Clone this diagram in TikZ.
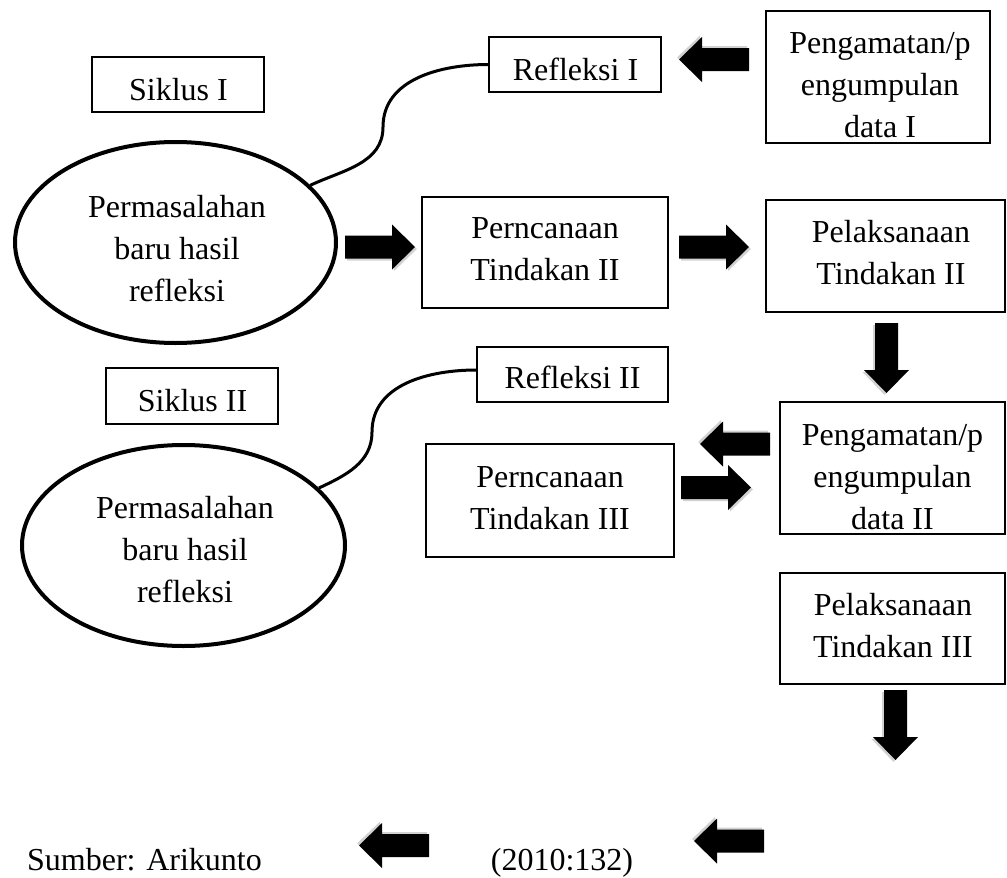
\documentclass[tikz,border=0pt]{standalone}
\usepackage{fontspec}
\setmainfont{Liberation Serif}
\usetikzlibrary{shapes.geometric}
\newcommand\mlines[1]{\begin{tabular}[t]{@{}c@{}}#1\end{tabular}}
\begin{document}
\begin{tikzpicture}[x=1pt,y=-1pt,
  box/.style={draw, line width=1.1pt, inner sep=0pt, rectangle},
  oval/.style={draw, line width=4pt, ellipse, inner sep=0pt},
  txt/.style={inner sep=0pt, anchor=base, font=\fontsize{32}{42}\selectfont},
  link/.style={line width=3pt},
  pics/blockarrow/.style={code={
    \fill[black!35, opacity=0.5] (2,-9.5) -- (49,-9.5) -- (49,-20) -- (72,2) -- (49,24) -- (49,13.5) -- (2,13.5) -- cycle;
    \fill[black] (0,-11.5) -- (47,-11.5) -- (47,-22.5) -- (70,0) -- (47,22.5) -- (47,11.5) -- (0,11.5) -- cycle;
  }}]
\useasboundingbox (0,0) rectangle (1007,878);
\fill[white] (0,0) rectangle (1007,878);

% boxes
\node[box, minimum width=172pt, minimum height=55pt] (s1) at (178,84.5) {};
\node[box, minimum width=172pt, minimum height=55pt] (r1) at (575,64.5) {};
\node[box, minimum width=224pt, minimum height=132pt] (p1) at (878,77) {};
\node[box, minimum width=246pt, minimum height=111pt] (c2) at (545,252.5) {};
\node[box, minimum width=239pt, minimum height=112pt] (l2) at (885.5,256) {};
\node[box, minimum width=172pt, minimum height=56pt] (s2) at (192,396) {};
\node[box, minimum width=191pt, minimum height=55pt] (r2) at (572.5,374.5) {};
\node[box, minimum width=248pt, minimum height=113pt] (c3) at (550,500.5) {};
\node[box, minimum width=225pt, minimum height=132pt] (p2) at (892.5,468) {};
\node[box, minimum width=225pt, minimum height=111pt] (l3) at (892.5,628.5) {};

% ellipses
\node[oval, minimum width=321pt, minimum height=201pt] (e1) at (175.5,242.5) {};
\node[oval, minimum width=323pt, minimum height=201pt] (e2) at (183.5,545.5) {};

% texts
\node[txt] (ts1) at (178.5,100) {Siklus I};
\node[txt] (tr1) at (575.5,80) {Refleksi I};
\node[txt] (tp1) at (880,53) {\mlines{Pengamatan/p\\engumpulan\\data I}};
\node[txt] (tc2) at (545,238) {\mlines{Perncanaan\\Tindakan II}};
\node[txt] (tl2) at (891,242) {\mlines{Pelaksanaan\\Tindakan II}};
\node[txt] (ts2) at (192.5,411) {Siklus II};
\node[txt] (tr2) at (572.5,388) {Refleksi II};
\node[txt] (tc3) at (550,487) {\mlines{Perncanaan\\Tindakan III}};
\node[txt] (tp2) at (892.5,445) {\mlines{Pengamatan/p\\engumpulan\\data II}};
\node[txt] (tl3) at (893,615) {\mlines{Pelaksanaan\\Tindakan III}};
\node[txt] (te1) at (177,217) {\mlines{Permasalahan\\baru hasil\\refleksi}};
\node[txt] (te2) at (185,518) {\mlines{Permasalahan\\baru hasil\\refleksi}};
\node[txt] (src1) at (144.5,870) {Sumber: Arikunto};
\node[txt] (src2) at (562,870) {(2010:132)};

% curved links
\coordinate (k1) at (383,127);
\coordinate (k2) at (372,432);
\draw[link] (e1.23) to[out=25,in=-90] (k1) to[out=90,in=180] (r1.west);
\draw[link] (e2.23) to[out=25,in=-90] (k2) to[out=90,in=180] (r2.west |- 0,370);

% block arrows
\pic at (345,247) {blockarrow};
\pic at (679,247) {blockarrow};
\pic[rotate=180] at (749,59.5) {blockarrow};
\pic[rotate=-90] at (886.5,323) {blockarrow};
\pic[rotate=180] at (770,444) {blockarrow};
\pic at (681,487.5) {blockarrow};
\pic[rotate=-90] at (895.5,690) {blockarrow};
\pic[rotate=180] at (764,841) {blockarrow};
\pic[rotate=180] at (429,845.5) {blockarrow};
\end{tikzpicture}
\end{document}
